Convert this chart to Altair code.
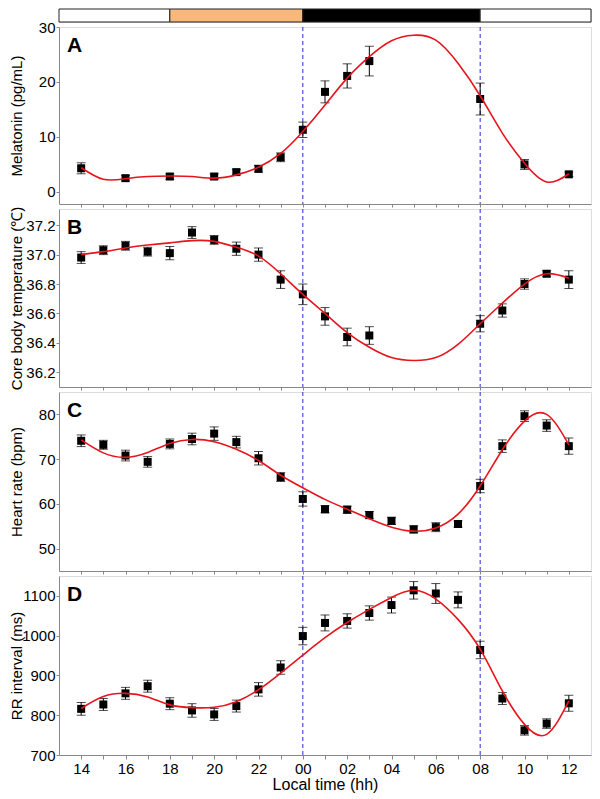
import altair as alt
import pandas as pd

FONT = "Liberation Sans, Arial, Noto Sans CJK KR, sans-serif"

# ---------------- data ----------------
fit_hours = list(range(14, 37))  # 14:00 -> 12:00 next day (24 = 00)

# A: melatonin
mel_hours = [14, 16, 18, 20, 21, 22, 23, 24, 25, 26, 27, 32, 34, 36]
mel_vals = [4.3, 2.5, 2.8, 2.8, 3.6, 4.2, 6.3, 11.3, 18.2, 21.1, 23.8, 16.9, 5.0, 3.2]
mel_err = [1.0, 0.5, 0.5, 0.5, 0.5, 0.6, 0.8, 1.4, 2.0, 2.2, 2.7, 2.9, 0.9, 0.4]
mel_fit = [4.4, 2.3, 2.4, 2.8, 2.9, 2.8, 2.5, 3.1, 4.5, 7.0, 11.0, 15.8, 20.7, 24.6,
           27.5, 28.5, 27.6, 23.4, 17.5, 10.7, 5.2, 1.8, 3.3]

# B: core body temperature
tmp_hours = [14, 15, 16, 17, 18, 19, 20, 21, 22, 23, 24, 25, 26, 27, 32, 33, 34, 35, 36]
tmp_vals = [36.98, 37.03, 37.06, 37.02, 37.01, 37.15, 37.10, 37.04, 37.00, 36.83,
            36.73, 36.58, 36.44, 36.45, 36.53, 36.62, 36.80, 36.87, 36.83]
tmp_err = [0.04, 0.03, 0.03, 0.03, 0.045, 0.04, 0.03, 0.045, 0.045, 0.06,
           0.07, 0.06, 0.06, 0.06, 0.055, 0.045, 0.035, 0.02, 0.06]
tmp_fit = [37.00, 37.02, 37.045, 37.065, 37.08, 37.095, 37.09, 37.05, 36.99, 36.87,
           36.73, 36.60, 36.47, 36.37, 36.30, 36.28, 36.30, 36.39, 36.53, 36.67,
           36.80, 36.87, 36.84]

# C: heart rate
hr_hours = list(range(14, 37))
hr_vals = [74.1, 73.2, 70.8, 69.4, 73.4, 74.5, 75.7, 73.8, 70.2, 66.0, 61.1, 58.8,
           58.7, 57.5, 56.2, 54.3, 54.8, 55.5, 64.0, 72.9, 79.6, 77.5, 72.9]
hr_err = [1.3, 1.0, 1.2, 1.2, 1.1, 1.3, 1.5, 1.3, 1.5, 1.0, 1.6, 0.8, 0.8, 0.8, 0.8,
          0.8, 1.0, 0.7, 1.5, 1.4, 1.2, 1.3, 1.8]
hr_fit = [74.3, 71.4, 70.4, 71.5, 73.5, 74.4, 73.9, 72.2, 69.7, 66.4, 63.6, 61.0,
          58.8, 56.7, 54.8, 53.9, 54.6, 57.7, 64.0, 72.1, 78.5, 80.0, 73.2]

# D: RR interval
rr_hours = list(range(14, 37))
rr_vals = [816, 827, 855, 873, 829, 812, 802, 823, 865, 920, 999, 1032, 1037, 1057,
           1077, 1114, 1106, 1090, 964, 842, 762, 779, 830]
rr_err = [16, 15, 15, 15, 15, 17, 15, 15, 17, 17, 22, 20, 18, 18, 20, 22, 25, 20,
          22, 15, 12, 12, 20]
rr_fit = [817, 847, 855, 846, 826, 819, 820, 834, 864, 906, 951, 995, 1033, 1066,
          1096, 1114, 1092, 1041, 966, 861, 777, 752, 836]

# light/dark bar
phase_names = ["light-pm", "evening", "dark", "light-am"]
phase_start = [13, 18, 24, 32]
phase_end = [18, 24, 32, 37]

marker_hours = [24, 32]

X_DOMAIN = [13, 37]
W = 532

hour_ticks = list(range(14, 37))
label_expr = ("datum.value % 2 == 0 ? (datum.value % 24 < 10 ? '0' + (datum.value % 24)"
              " : '' + (datum.value % 24)) : ''")


def xaxis(bottom):
    if bottom:
        return alt.Axis(values=hour_ticks, labelExpr=label_expr, title="Local time (hh)",
                        tickSize=4, labelFontSize=15, titleFontSize=16,
                        titleFontWeight="normal", labelPadding=2, titlePadding=0,
                        grid=False, labelFlush=False, labelOverlap=False)
    return alt.Axis(values=hour_ticks, labels=False, title=None, tickSize=3, grid=False)


def panel(title, letter, hours, vals, errs, fit, ydom, yvals, fmt, height, bottom=False):
    obs = pd.DataFrame({"h": hours, "v": vals, "e": errs})
    fitdf = pd.DataFrame({"h": fit_hours, "v": fit})
    xs = alt.Scale(domain=X_DOMAIN, nice=False, zero=False)
    ys = alt.Scale(domain=ydom, nice=False, zero=False)
    xax = xaxis(bottom)
    yax = alt.Axis(values=yvals, format=fmt, title=title, tickSize=3,
                   labelFontSize=15, titleFontSize=15, titleFontWeight="normal",
                   labelPadding=1, titleX=-35, grid=False, labelOverlap=False)
    X = alt.X("h:Q", scale=xs, axis=xax)
    Y = alt.Y("v:Q", scale=ys, axis=yax)
    YLO = alt.Y("lo:Q", scale=ys, axis=yax)
    YHI = alt.Y("hi:Q", scale=ys, axis=yax)

    vlines = alt.Chart(pd.DataFrame({"h": marker_hours})).mark_rule(
        color="#2a2ad8", strokeDash=[4, 3], strokeWidth=1
    ).encode(x=X)

    base = alt.Chart(obs).transform_calculate(lo="datum.v - datum.e", hi="datum.v + datum.e")
    bars = base.mark_rule(color="black", strokeWidth=1).encode(x=X, y=YLO, y2="hi:Q")
    cap_lo = base.mark_tick(color="black", orient="horizontal", size=9, thickness=1).encode(
        x=X, y=YLO)
    cap_hi = base.mark_tick(color="black", orient="horizontal", size=9, thickness=1).encode(
        x=X, y=YHI)
    pts = alt.Chart(obs).mark_square(size=64, color="black", opacity=1).encode(x=X, y=Y)
    line = alt.Chart(fitdf).mark_line(color="#e8141c", strokeWidth=1.6,
                                      interpolate="natural").encode(x=X, y=Y)
    lab = alt.Chart(pd.DataFrame({"t": [letter]})).mark_text(
        fontSize=21, fontWeight="bold", align="left", baseline="top", font=FONT,
        color="black"
    ).encode(text="t:N", x=alt.value(8), y=alt.value(8))

    return alt.layer(pts, vlines, bars, cap_lo, cap_hi, line, lab).properties(
        width=W, height=height)


light_df = pd.DataFrame({"phase": phase_names, "s": phase_start, "e": phase_end})
topbar = alt.Chart(light_df).mark_rect(stroke="#222222", strokeWidth=1).encode(
    x=alt.X("s:Q", scale=alt.Scale(domain=X_DOMAIN, nice=False, zero=False), axis=None),
    x2="e:Q",
    color=alt.Color("phase:N", scale=alt.Scale(domain=phase_names,
                                               range=["white", "#f8b87c", "black", "white"]),
                    legend=None),
).properties(width=W, height=13)

pA = panel("Melatonin (pg/mL)", "A", mel_hours, mel_vals, mel_err, mel_fit,
           [-2.2, 30], [0, 10, 20, 30], "d", 177)
pB = panel("Core body temperature (\u2103)", "B", tmp_hours, tmp_vals, tmp_err, tmp_fit,
           [36.1, 37.31], [36.2, 36.4, 36.6, 36.8, 37.0, 37.2], ".1f", 178)
pC = panel("Heart rate (bpm)", "C", hr_hours, hr_vals, hr_err, hr_fit,
           [45, 85], [50, 60, 70, 80], "d", 179)
pD = panel("RR interval (ms)", "D", rr_hours, rr_vals, rr_err, rr_fit,
           [700, 1150], [700, 800, 900, 1000, 1100], "d", 179, bottom=True)

chart = alt.vconcat(topbar, pA, pB, pC, pD, spacing=5, bounds="flush").configure_view(
    stroke="#222222", strokeWidth=1
).configure_axis(
    domainColor="#222222", tickColor="#222222", labelColor="black", titleColor="black",
    labelFont=FONT, titleFont=FONT
).configure(background="white", padding=0)

chart.save("out.html", embed_options={"renderer": "svg", "actions": False})
